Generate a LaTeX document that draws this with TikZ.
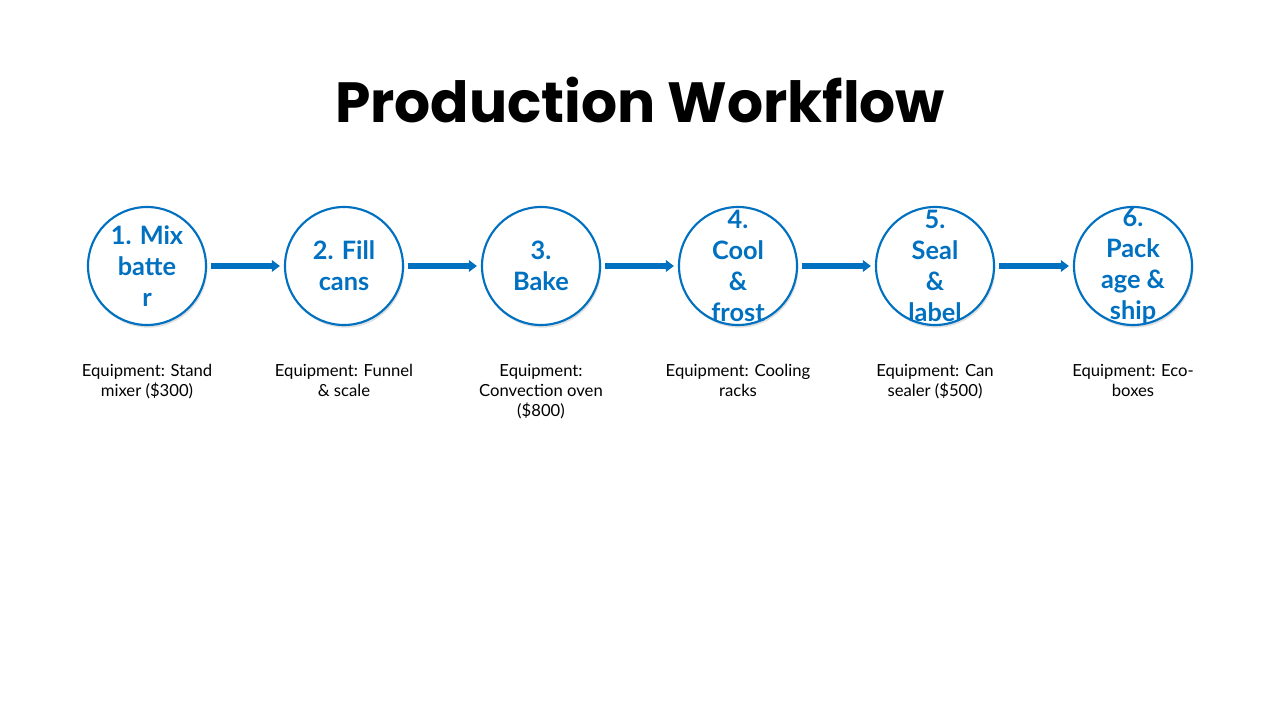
\documentclass[tikz,border=0pt]{standalone}
\usepackage{fontspec}
\setmainfont{Lato}
\newfontfamily\titlefont{Poppins}
\usetikzlibrary{arrows.meta,shadows}
\definecolor{stepblue}{HTML}{0070C0}

\begin{document}
\begin{tikzpicture}[x=0.75pt,y=0.75pt,yscale=-1,xscale=1,
  stage/.style={circle,draw=stepblue,line width=1.6pt,fill=white,minimum size=88.5pt,inner sep=0pt,
    drop shadow={shadow xshift=1pt,shadow yshift=-2pt,opacity=0.25},
    label={[align=center,text=stepblue,font=\fontsize{19}{23.2}\selectfont\bfseries]center:#1}},
  flow/.style={draw=stepblue,line width=4.2pt,-{Triangle[length=6pt,width=8.5pt]},shorten <=3pt,shorten >=3pt},
  note/.style={align=center,font=\fontsize{12.5}{15}\selectfont}]
\useasboundingbox (0,0) rectangle (1280,720);

% Title
\node (title) at (640,100) {\titlefont\bfseries\fontsize{42.5}{50}\selectfont Production Workflow};

% Steps
\node[stage={1. Mix\\batte\\r}] (mix) at (147,266) {};
\node[stage={2. Fill\\cans}] (fill) at (344,266) {};
\node[stage={3.\\Bake}] (bake) at (541,266) {};
\node[stage={4.\\Cool\\\&\\frost}] (cool) at (738,266) {};
\node[stage={5.\\Seal\\\&\\label}] (seal) at (935,266) {};
\node[stage={6.\\Pack\\age \&\\ship}] (pack) at (1133,266) {};

% Connectors
\draw[flow] (mix) -- (fill);
\draw[flow] (fill) -- (bake);
\draw[flow] (bake) -- (cool);
\draw[flow] (cool) -- (seal);
\draw[flow] (seal) -- (pack);

% Equipment notes
\node[note,anchor=north] (mixnote) at (147,360) {Equipment: Stand\\mixer (\$300)};
\node[note,anchor=north] (fillnote) at (344,360) {Equipment: Funnel\\\& scale};
\node[note,anchor=north] (bakenote) at (541,360) {Equipment:\\Convection oven\\(\$800)};
\node[note,anchor=north] (coolnote) at (738,360) {Equipment: Cooling\\racks};
\node[note,anchor=north] (sealnote) at (935,360) {Equipment: Can\\sealer (\$500)};
\node[note,anchor=north] (packnote) at (1133,360) {Equipment: Eco-\\boxes};

\end{tikzpicture}
\end{document}
